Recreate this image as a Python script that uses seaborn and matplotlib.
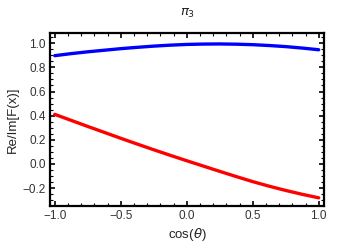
import numpy as np
import pandas as pd
import seaborn as sns
import matplotlib
matplotlib.use("Agg")
import matplotlib.pyplot as plt
from matplotlib.ticker import MultipleLocator

# values
cos_theta = [-1.0, -0.875, -0.75, -0.625, -0.5, -0.375, -0.25, -0.125, 0.0,
             0.125, 0.25, 0.375, 0.5, 0.625, 0.75, 0.875, 1.0]
re_part = [0.897, 0.914, 0.929, 0.942, 0.955, 0.966, 0.976, 0.984, 0.990,
           0.993, 0.994, 0.992, 0.988, 0.981, 0.972, 0.960, 0.946]
im_part = [0.411, 0.361, 0.311, 0.262, 0.213, 0.165, 0.118, 0.072, 0.027,
           -0.017, -0.061, -0.104, -0.146, -0.184, -0.219, -0.251, -0.280]

df = pd.DataFrame({
    "x": cos_theta * 2,
    "y": re_part + im_part,
    "part": ["Re"] * len(cos_theta) + ["Im"] * len(cos_theta),
})

sns.set_theme(style="ticks")
plt.rcParams["font.family"] = ["Liberation Sans", "DejaVu Sans"]

fig, ax = plt.subplots(figsize=(3.58, 2.46), dpi=100)
fig.subplots_adjust(left=0.14, right=0.905, top=0.866, bottom=0.163)

sns.lineplot(data=df, x="x", y="y", hue="part",
             palette={"Re": (0, 0, 1), "Im": (1, 0, 0)},
             linewidth=2.4, legend=False, ax=ax)

ax.set_xlim(-1.035, 1.04)
ax.set_ylim(-0.347, 1.085)
ax.xaxis.set_major_locator(MultipleLocator(0.5))
ax.xaxis.set_minor_locator(MultipleLocator(0.1))
ax.yaxis.set_major_locator(MultipleLocator(0.2))
ax.yaxis.set_minor_locator(MultipleLocator(0.05))
ax.xaxis.set_major_formatter(lambda v, p: f"{v:.1f}".replace("-", "\u2212"))
ax.yaxis.set_major_formatter(lambda v, p: f"{v:.1f}".replace("-", "\u2212"))

ax.tick_params(which="both", direction="in", top=True, right=True,
               colors="black", labelcolor="#333333", labelsize=8.5, pad=3)
ax.tick_params(which="major", length=3.5, width=1.2)
ax.tick_params(which="minor", length=2, width=0.8)
for s in ax.spines.values():
    s.set_linewidth(1.6)
    s.set_color("black")

ax.set_xlabel(r"cos($\theta$)", fontsize=9.5, color="#222222", labelpad=3)
ax.set_ylabel("Re/Im[F(x)]", fontsize=9.5, color="#222222", labelpad=3)
ax.set_title(r"$\pi_3$", fontsize=9.5, color="#222222", pad=12)

plt.savefig("out.png", dpi=100)
